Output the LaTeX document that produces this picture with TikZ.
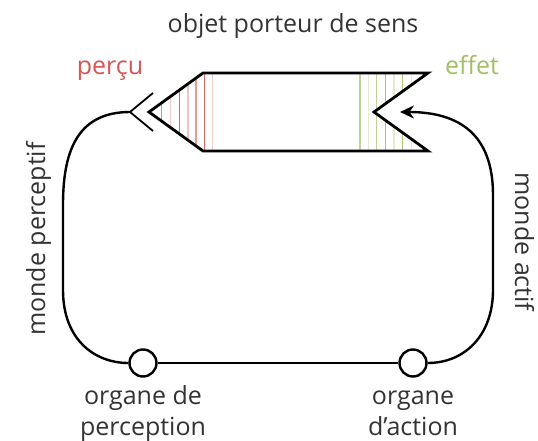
\documentclass[tikz,border=0pt]{standalone}
\usepackage{fontspec}
\setmainfont{Open Sans}
\usetikzlibrary{arrows.meta}
\definecolor{rouge}{RGB}{214,84,84}
\definecolor{vert}{RGB}{160,192,100}
\tikzset{
  lbl/.style={font=\fontsize{25}{31}\selectfont, text=black!80, align=center, inner sep=0pt, anchor=base},
  organ/.style={circle, draw, line width=2.4pt, minimum size=27pt, inner sep=0pt, fill=white},
  loop/.style={line width=2.4pt, draw=black},
  obj/.style={line width=2.8pt, draw=black, line join=miter},
  rstripe/.style={draw=rouge, line width=1.1pt},
  gstripe/.style={draw=vert, line width=1.1pt}
}
\begin{document}
\begin{tikzpicture}[x=1pt,y=-1pt]
\useasboundingbox (0,0) rectangle (538,441);
% object shape
\begin{scope}
  \clip (203,73) -- (428,73) -- (374,112) -- (428,151) -- (203,151) -- (149,112) -- cycle;
  \foreach \x/\o in {161.7/0.7,170.7/0.3,179.3/0.9,188/0.35,196/0.6,204.3/0.9,212.7/0.3}
    \draw[rstripe, draw opacity=\o] (\x,60) -- (\x,165);
  \foreach \x/\o in {360/0.7,368.3/0.3,376.7/0.7,385.7/0.9,394/0.3,402.7/0.9,411.7/0.3}
    \draw[gstripe, draw opacity=\o] (\x,60) -- (\x,165);
\end{scope}
\draw[obj] (203,73) -- (428,73) -- (374,112) -- (428,151) -- (203,151) -- (149,112) -- cycle;
% chevron
\coordinate (cv) at (130,112);
\draw[line width=1.8pt] (153,93) -- (cv) -- (153,131);
% arrow target
\coordinate (tip) at (400,112);
% organs
\node[organ] (op) at (143,363) {};
\node[organ] (oa) at (413,363) {};
\draw[loop] (op) -- (oa);
\draw[loop] (cv) .. controls (75,112) and (63,155) .. (63,205) -- (63,290)
  .. controls (63,340) and (95,363) .. (op.west);
\draw[loop, -{Stealth[length=14pt,width=13pt]}] (oa.east) .. controls (465,363) and (493,335) .. (493,290)
  -- (493,195) .. controls (493,135) and (460,112) .. (tip);
% labels
\node[lbl] (title) at (293,33) {objet porteur de sens};
\node[lbl, text=rouge] (percu) at (110,75) {perçu};
\node[lbl, text=vert] (effet) at (472,75) {effet};
\node[lbl, rotate=90] (mp) at (45,239) {monde perceptif};
\node[lbl, rotate=-90] (ma) at (515,242) {monde actif};
\node[lbl] (lop) at (143,435) {organe de\\perception};
\node[lbl] (loa) at (413,435) {organe\\d’action};
\end{tikzpicture}
\end{document}
